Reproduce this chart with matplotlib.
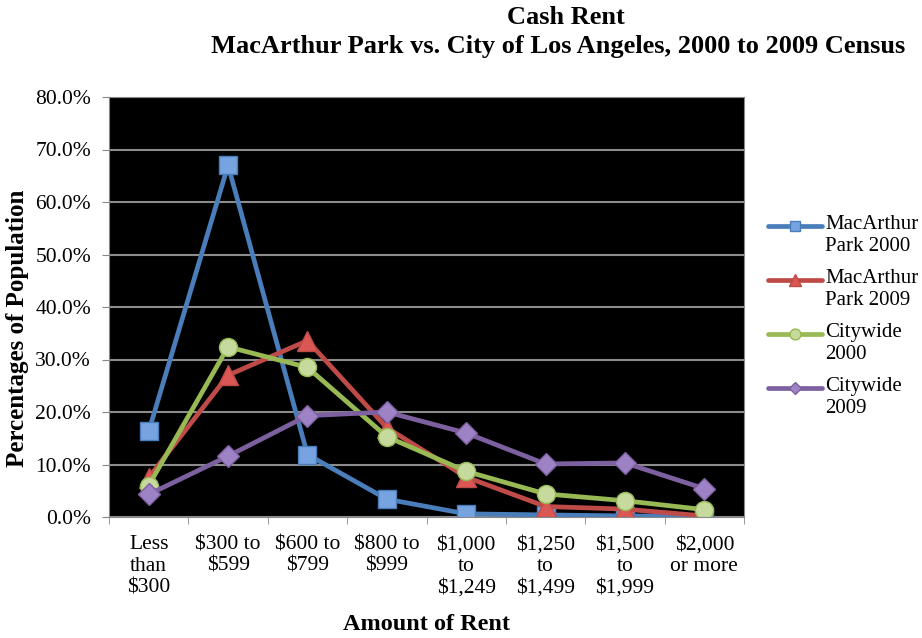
import numpy as np
import matplotlib.pyplot as plt

plt.rcParams['font.family'] = ['Liberation Serif', 'DejaVu Serif']

categories = ['Less\nthan\n$300', '$300 to\n$599', '$600 to\n$799', '$800 to\n$999',
              '$1,000\nto\n$1,249', '$1,250\nto\n$1,499', '$1,500\nto\n$1,999', '$2,000\nor more']

mac_2000 = [16.3, 67.0, 11.9, 3.4, 0.6, 0.4, 0.2, 0.1]
mac_2009 = [7.5, 27.0, 33.6, 17.0, 7.6, 2.0, 1.5, 0.2]
city_2000 = [6.0, 32.4, 28.5, 15.3, 8.7, 4.4, 3.1, 1.4]
city_2009 = [4.3, 11.6, 19.3, 20.0, 16.0, 10.1, 10.3, 5.4]

series = [
    ('MacArthur\nPark 2000', mac_2000, '#4A7EBB', '#77A4E0', 's', 13),
    ('MacArthur\nPark 2009', mac_2009, '#BE4B48', '#DA5753', '^', 14),
    ('Citywide\n2000', city_2000, '#98B954', '#C6DA9D', 'o', 13),
    ('Citywide\n2009', city_2009, '#7D60A0', '#9D82C6', 'D', 11),
]

W, H = 922, 638
fig = plt.figure(figsize=(W / 100, H / 100), dpi=100)
ax = fig.add_axes([109 / W, 1 - 517 / H, (744 - 109) / W, (517 - 97) / H])
ax.set_facecolor('black')

x = np.arange(len(categories))
for label, vals, col, face, mk, ms in series:
    ax.plot(x, vals, color=col, lw=3.4, marker=mk, ms=ms, mfc=face, mec=col,
            mew=1, solid_joinstyle='round')

ax.set_xlim(-0.5, len(categories) - 0.5)
ax.set_ylim(0, 80)
ax.set_yticks(np.arange(0, 81, 10))
ax.set_yticklabels(['%.1f%%' % v for v in np.arange(0, 81, 10)], fontsize=15.5)
ax.set_xticks(x)
ax.set_xticklabels(categories, fontsize=15.5, linespacing=1.2)
ax.set_xticks(np.arange(-0.5, len(categories), 1), minor=True)
ax.tick_params(axis='x', which='major', length=0, pad=13)
ax.tick_params(axis='x', which='minor', length=5, color='#888888')
ax.tick_params(axis='y', length=5, color='#888888', pad=8)
ax.grid(axis='y', color='#8C8C8C', lw=1.5)
ax.set_axisbelow(True)
for s in ax.spines.values():
    s.set_color('#888888')

fig.text(18 / W, 1 - 328 / H, 'Percentages of Population', rotation=90, ha='center',
         va='center', fontsize=18, fontweight='bold')
fig.text(426 / W, 1 - 625 / H, 'Amount of Rent', ha='center', va='center',
         fontsize=17.5, fontweight='bold')

fig.text(566 / W, 1 - 18 / H, 'Cash Rent', ha='center', va='center',
         fontsize=19, fontweight='bold')
fig.text(558 / W, 1 - 47 / H, 'MacArthur Park vs. City of Los Angeles, 2000 to 2009 Census',
         ha='center', va='center', fontsize=19, fontweight='bold')

# legend, Excel style: handle level with the first text line
lax = fig.add_axes([0, 0, 1, 1])
lax.set_xlim(0, W)
lax.set_ylim(H, 0)
lax.axis('off')
for i, (label, vals, col, face, mk, ms) in enumerate(series):
    yy = 226 + i * 54
    lax.plot([768, 822], [yy, yy], color=col, lw=3.4, solid_capstyle='round')
    lax.plot([795], [yy], marker=mk, ms=ms * 0.6, mfc=face, mec=col, mew=1)
    lax.text(825, yy - 11, label, ha='left', va='top', fontsize=15, linespacing=1.2)

fig.savefig('out.png', dpi=100)
